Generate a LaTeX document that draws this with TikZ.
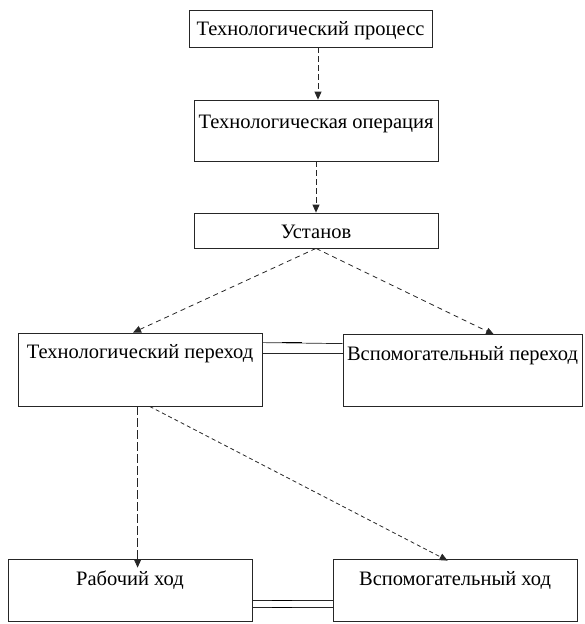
\documentclass[tikz,border=0pt]{standalone}
\usepackage{fontspec}
\setmainfont{Liberation Serif}
\usetikzlibrary{arrows.meta}
\begin{document}
\begin{tikzpicture}[x=1pt,y=-1pt,
  box/.style={draw=black!85,line width=0.8pt,rectangle,inner xsep=0pt,inner ysep=0pt,
    font=\fontsize{20.5}{22}\selectfont},
  tip/.style={-{Triangle[length=8pt,width=7pt]}},
  dashA/.style={tip,black!85,line width=0.8pt,dash pattern=on 6pt off 3pt},
  dashB/.style={tip,black!85,line width=0.8pt,dash pattern=on 5pt off 4pt},
  dashLong/.style={tip,black!85,line width=0.8pt,dash pattern=on 9pt off 3pt},
  dashShort/.style={tip,black!85,line width=0.8pt,dash pattern=on 4pt off 3pt},
  link/.style={black!85,line width=0.7pt},
  linkdark/.style={black,line width=1.3pt}]
\useasboundingbox (0,0) rectangle (584,624);

% boxes: text height = baseline offset from top, text depth = rest of height
\node[box,minimum width=243pt,text height=25pt,text depth=12pt] (proc) at (310.5,28.5) {Технологический процесс};
\node[box,minimum width=244pt,text height=28pt,text depth=33pt] (oper) at (316,130.5) {Технологическая операция};
\node[box,minimum width=244pt,text height=25pt,text depth=10pt] (ust) at (316,230.5) {Установ};
\node[box,minimum width=244pt,text height=25pt,text depth=48pt] (tper) at (140,369.5) {Технологический переход};
\node[box,minimum width=239pt,text height=26pt,text depth=46pt] (vper) at (462.5,370) {Вспомогательный переход};
\node[box,minimum width=244pt,text height=26pt,text depth=36pt] (rhod) at (130,590) {Рабочий ход};
\node[box,minimum width=244pt,text height=26pt,text depth=36pt] (vhod) at (455,590) {Вспомогательный ход};

% vertical chain
\draw[dashA] ([xshift=7.5pt]proc.south) -- ([xshift=2pt]oper.north);
\draw[dashA] (oper.south) -- (ust.north);

% branching from the setup
\draw[dashB] (ust.south) -- ([xshift=-7pt]tper.north);
\draw[dashB] (ust.south) -- ([xshift=31.5pt,yshift=-1pt]vper.north);

% branching from the technological step
\coordinate (tpA) at ([xshift=120pt]tper.south west);
\coordinate (tpB) at ([xshift=132pt]tper.south west);
\coordinate (rhA) at ([xshift=130pt,yshift=-9pt]rhod.north west);
\coordinate (vhA) at ([xshift=115pt,yshift=-2pt]vhod.north west);
\draw[dashLong] (tpA) -- (rhA);
\draw[dashShort] (tpB) -- (vhA);

% double links between neighbouring boxes
\draw[link] ([yshift=-10pt]tper.north east) -- ([yshift=-10pt]vper.north west);
\draw[link] ([yshift=-21pt]tper.north east) -- ([yshift=-20pt]vper.north west);
\draw[linkdark] ([xshift=20pt,yshift=-10pt]tper.north east) -- ([xshift=40pt,yshift=-10pt]tper.north east);

\draw[link] ([yshift=21pt]rhod.south east) -- ([yshift=21pt]vhod.south west);
\draw[link] ([yshift=14pt]rhod.south east) -- ([yshift=14pt]vhod.south west);
\draw[linkdark] ([xshift=20pt,yshift=21pt]rhod.south east) -- ([xshift=40pt,yshift=21pt]rhod.south east);
\draw[linkdark] ([xshift=20pt,yshift=14pt]rhod.south east) -- ([xshift=40pt,yshift=14pt]rhod.south east);
\end{tikzpicture}
\end{document}
